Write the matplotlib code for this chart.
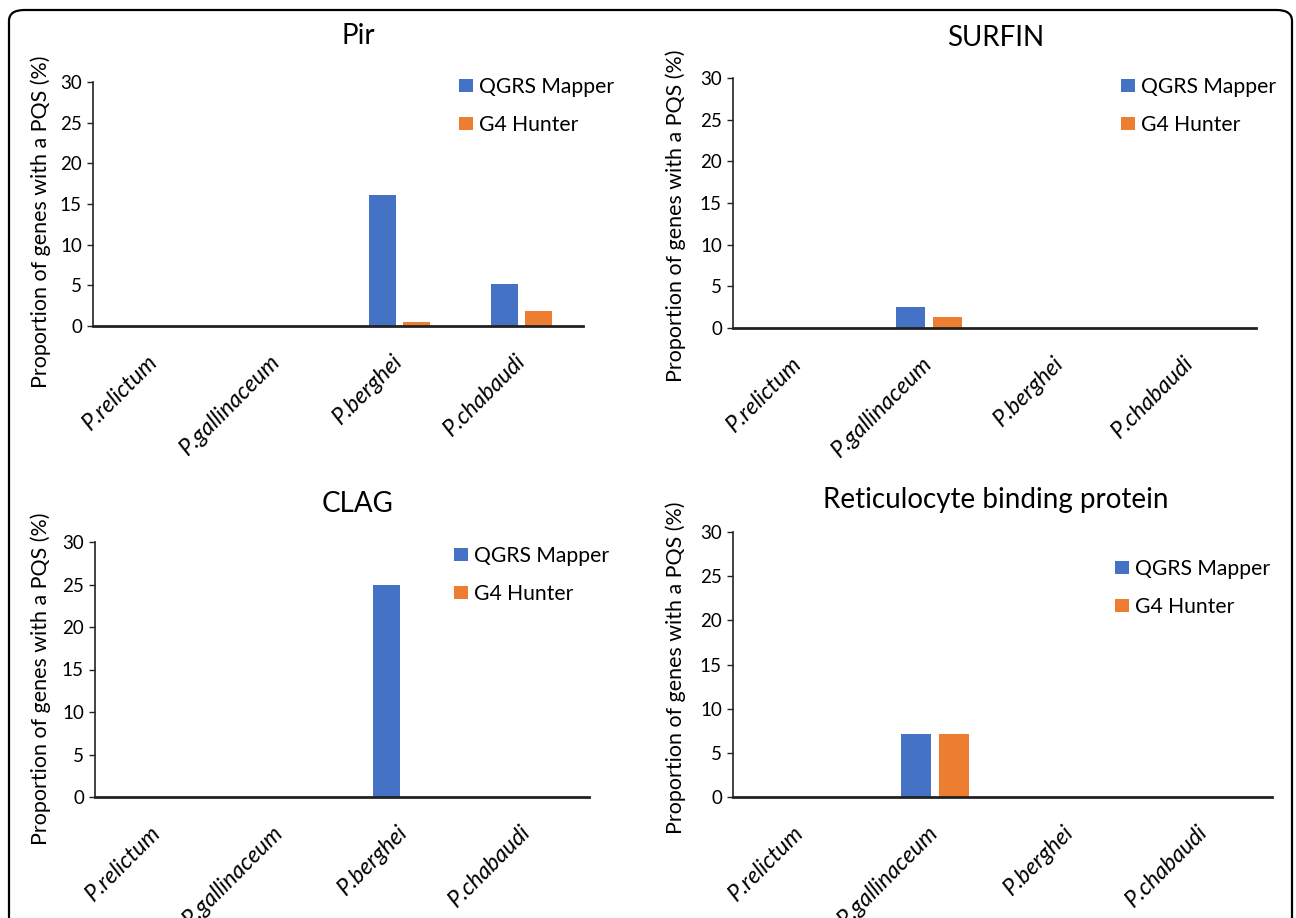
import matplotlib
matplotlib.use("Agg")
import matplotlib.pyplot as plt
import numpy as np
from matplotlib.patches import FancyBboxPatch

plt.rcParams['font.family'] = ['Lato', 'DejaVu Sans']

categories = ['P.relictum', 'P.gallinaceum', 'P.berghei', 'P.chabaudi']
series_names = ['QGRS Mapper', 'G4 Hunter']
colors = ['#4472C4', '#ED7D31']
yticks = [0, 5, 10, 15, 20, 25, 30]

titles = ['Pir', 'SURFIN', 'CLAG', 'Reticulocyte binding protein']
pir_qgrs = [0, 0, 16.1, 5.2]
pir_g4 = [0, 0, 0.5, 1.9]
surfin_qgrs = [0, 2.5, 0, 0]
surfin_g4 = [0, 1.3, 0, 0]
clag_qgrs = [0, 0, 25.0, 0]
clag_g4 = [0, 0, 0, 0]
rbp_qgrs = [0, 7.14, 0, 0]
rbp_g4 = [0, 7.14, 0, 0]

panel_data = [(pir_qgrs, pir_g4), (surfin_qgrs, surfin_g4),
              (clag_qgrs, clag_g4), (rbp_qgrs, rbp_g4)]

W, H = 1296, 918
fig = plt.figure(figsize=(W / 100, H / 100), dpi=100)

def px(x, y):
    return x / W, 1 - y / H

# axes boxes in pixels: x0, x1, ytop, ybot
boxes = [(93, 583, 82, 326), (733, 1256, 78, 328),
         (95, 589, 542, 797), (733, 1272, 532, 797)]
title_pos = [(358, 36), (996, 38), (358, 504), (996, 500)]
ylabel_pos = [(41, 222), (676, 216), (41, 679), (676, 668)]
legend_pos = [(459, 77), (1121, 77), (454, 546), (1115, 559)]

# rounded border
border = FancyBboxPatch((9 / W, -0.05), (1292 - 9) / W, 1 - 10 / H + 0.05,
                        boxstyle="round,pad=0,rounding_size=0.012",
                        transform=fig.transFigure, facecolor='none',
                        edgecolor='black', linewidth=1.6, zorder=0)
fig.patches.append(border)

x = np.arange(len(categories))
bw = 0.22
off = 0.14

for i, (x0, x1, yt, yb) in enumerate(boxes):
    l, b = px(x0, yb)
    ax = fig.add_axes([l, b, (x1 - x0) / W, (yb - yt) / H])
    q, g = panel_data[i]
    ax.bar(x - off, q, bw, color=colors[0], label=series_names[0], linewidth=0)
    ax.bar(x + off, g, bw, color=colors[1], label=series_names[1], linewidth=0)
    ax.set_xlim(-0.5, len(categories) - 0.5)
    ax.set_ylim(0, 30)
    ax.set_yticks(yticks)
    ax.tick_params(axis='y', labelsize=13.5, length=4, width=1, pad=4, colors='#222222')
    ax.tick_params(axis='y', labelcolor='black')
    ax.set_xticks(x)
    ax.set_xticklabels(categories, rotation=45, ha='right', va='center',
                       rotation_mode='anchor', fontsize=16.5, style='italic')
    ax.tick_params(axis='x', length=0, pad=23)
    for s in ['top', 'right']:
        ax.spines[s].set_visible(False)
    ax.spines['left'].set_linewidth(1.2)
    ax.spines['left'].set_color('#222222')
    ax.spines['bottom'].set_linewidth(2.0)
    ax.spines['bottom'].set_color('#222222')
    ax.spines['bottom'].set_zorder(5)
    tx, ty = px(*title_pos[i])
    fig.text(tx, ty, titles[i], ha='center', va='center', fontsize=20)
    lx, ly = px(*ylabel_pos[i])
    fig.text(lx, ly, 'Proportion of genes with a PQS (%)', rotation=90,
             ha='center', va='center', fontsize=15.4)
    gx, gy = px(*legend_pos[i])
    ax.legend(loc='upper left', bbox_to_anchor=(gx, gy), bbox_transform=fig.transFigure,
              frameon=False, fontsize=15.2, borderpad=0, handlelength=0.66,
              handleheight=0.62, handletextpad=0.3, labelspacing=0.85,
              borderaxespad=0)

fig.savefig('out.png', dpi=100)
